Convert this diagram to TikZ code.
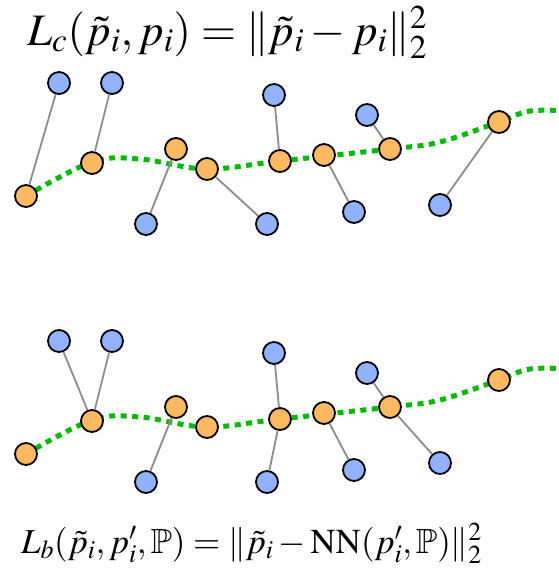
\documentclass[tikz,border=0pt]{standalone}
\usepackage{amsmath,amssymb}
\usepackage{mathptmx}
\usepackage{tikz}
\usetikzlibrary{positioning}
\usepackage{xcolor}
\definecolor{ptOrange}{HTML}{FFB961}
\definecolor{ptBlue}{HTML}{91B3FF}
\definecolor{curveGreen}{HTML}{00BB00}

\begin{document}
\begin{tikzpicture}[
    x=1pt, y=-1pt,
    predPt/.style={circle, draw=black, fill=ptOrange, line width=1.8pt, minimum size=22pt, inner sep=0pt},
    gtPt/.style={circle, draw=black, fill=ptBlue, line width=1.8pt, minimum size=22pt, inner sep=0pt},
    matchLine/.style={draw=black!45, line width=1.8pt},
    surfCurve/.style={draw=curveGreen, line width=5pt, dash pattern=on 6pt off 5.5pt},
    lossText/.style={anchor=base west, inner sep=0pt}
]
    \useasboundingbox (0,0) rectangle (558,574);

    % chamfer loss
    \node[lossText, font=\fontsize{45}{50}\selectfont] (lc) at (27,45) {$L_c(\tilde{p}_i, p_i) = \|\tilde{p}_i - p_i\|_2^2$};

    \draw[surfCurve] plot[smooth, tension=0.6] coordinates {(26,196) (92,162) (140,159) (206,169) (280,161) (390,149) (440,142) (499,122) (530,111) (570,111)};

    \node[predPt] (tp1) at (26,196) {};
    \node[predPt] (tp2) at (92,163) {};
    \node[predPt] (tp3) at (176,149) {};
    \node[predPt] (tp4) at (207,169) {};
    \node[predPt] (tp5) at (280,161) {};
    \node[predPt] (tp6) at (324,155) {};
    \node[predPt] (tp7) at (390,149) {};
    \node[predPt] (tp8) at (499,122) {};

    \node[gtPt] (tq1) at (59,83) {};
    \node[gtPt] (tq2) at (112,83) {};
    \node[gtPt] (tq3) at (146,224) {};
    \node[gtPt] (tq4) at (267,224) {};
    \node[gtPt] (tq5) at (274,95) {};
    \node[gtPt] (tq6) at (354,212) {};
    \node[gtPt] (tq7) at (367,115) {};
    \node[gtPt] (tq8) at (440,205) {};

    \draw[matchLine] (tq1) -- (tp1);
    \draw[matchLine] (tq2) -- (tp2);
    \draw[matchLine] (tq3) -- (tp3);
    \draw[matchLine] (tq4) -- (tp4);
    \draw[matchLine] (tq5) -- (tp5);
    \draw[matchLine] (tq6) -- (tp6);
    \draw[matchLine] (tq7) -- (tp7);
    \draw[matchLine] (tq8) -- (tp8);

    % boundary loss
    \begin{scope}[yshift=-258pt]
    \draw[surfCurve] plot[smooth, tension=0.6] coordinates {(26,196) (92,162) (140,159) (206,169) (280,161) (390,149) (440,142) (499,122) (530,111) (570,111)};

    \node[predPt] (bp1) at (26,196) {};
    \node[predPt] (bp2) at (92,163) {};
    \node[predPt] (bp3) at (176,149) {};
    \node[predPt] (bp4) at (207,169) {};
    \node[predPt] (bp5) at (280,161) {};
    \node[predPt] (bp6) at (324,155) {};
    \node[predPt] (bp7) at (390,149) {};
    \node[predPt] (bp8) at (499,122) {};

    \node[gtPt] (bq1) at (59,83) {};
    \node[gtPt] (bq2) at (112,83) {};
    \node[gtPt] (bq3) at (146,224) {};
    \node[gtPt] (bq4) at (267,224) {};
    \node[gtPt] (bq5) at (274,95) {};
    \node[gtPt] (bq6) at (354,212) {};
    \node[gtPt] (bq7) at (367,115) {};
    \node[gtPt] (bq8) at (440,205) {};

    \draw[matchLine] (bq1) -- (bp2);
    \draw[matchLine] (bq2) -- (bp2);
    \draw[matchLine] (bq3) -- (bp3);
    \draw[matchLine] (bq4) -- (bp5);
    \draw[matchLine] (bq5) -- (bp5);
    \draw[matchLine] (bq6) -- (bp6);
    \draw[matchLine] (bq7) -- (bp7);
    \draw[matchLine] (bq8) -- (bp7);
    \end{scope}

    \node[lossText, font=\fontsize{35}{40}\selectfont] (lb) at (21,553) {$L_b(\tilde{p}_i, p'_i, \mathbb{P}) = \|\tilde{p}_i - \mathrm{NN}(p'_i, \mathbb{P})\|_2^2$};
\end{tikzpicture}
\end{document}
